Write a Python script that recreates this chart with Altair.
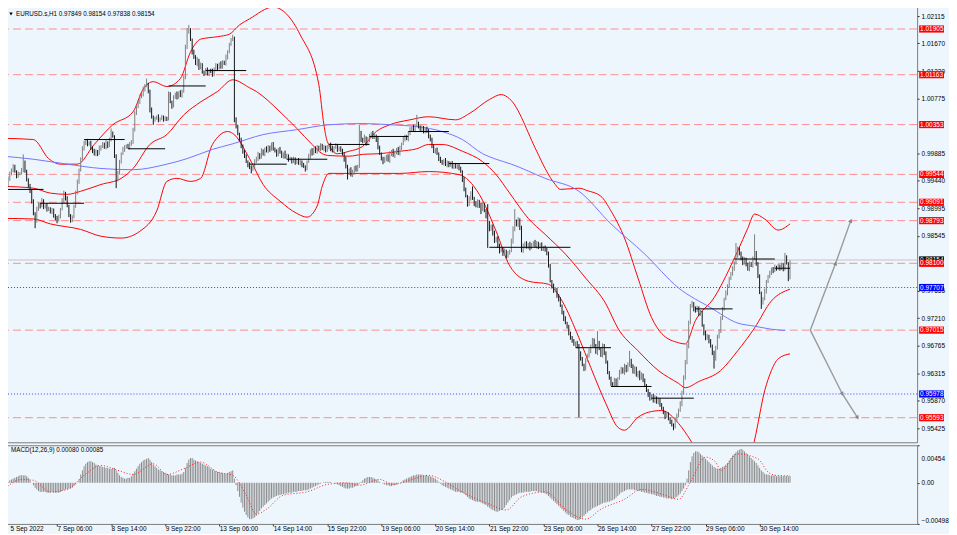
import json

import altair as alt
import pandas as pd

# EURUSD.s H1, 5 Sep - 30 Sep 2022.
# hourly closes in units of 0.0001, one per bar (open = previous close)
closes = [
    9932, 9935, 9938, 9946, 9956, 9962, 9967, 9959, 9951, 9956,
    9956, 9962, 9975, 9959, 9946, 9935, 9927, 9911, 9891, 9878,
    9898, 9906, 9903, 9911, 9901, 9904, 9898, 9899, 9893, 9896,
    9888, 9883, 9880, 9886, 9898, 9911, 9924, 9916, 9903, 9888,
    9880, 9885, 9903, 9924, 9943, 9962, 9979, 9996, 10004, 10008,
    10003, 10006, 9998, 9992, 9987, 9992, 9988, 9996, 9999, 10003,
    9998, 10006, 10001, 10011, 10021, 10016, 9984, 9946, 9956, 9975,
    9988, 9995, 9999, 10001, 9998, 10003, 10008, 10027, 10053, 10064,
    10072, 10080, 10085, 10092, 10098, 10101, 10089, 10059, 10048, 10043,
    10045, 10048, 10043, 10045, 10048, 10043, 10046, 10045, 10085, 10072,
    10066, 10079, 10084, 10080, 10087, 10082, 10089, 10113, 10161, 10186,
    10189, 10173, 10153, 10145, 10134, 10140, 10127, 10132, 10121, 10118,
    10124, 10118, 10123, 10121, 10116, 10126, 10131, 10127, 10134, 10129,
    10137, 10134, 10145, 10153, 10166, 10173, 10176, 10043, 10032, 10020,
    10011, 9999, 9992, 9984, 9975, 9970, 9966, 9962, 9967, 9975,
    9980, 9987, 9982, 9992, 9988, 9996, 9992, 9999, 9995, 10003,
    9996, 9992, 9987, 9995, 9990, 9984, 9988, 9982, 9985, 9979,
    9980, 9975, 9979, 9974, 9977, 9972, 9975, 9970, 9967, 9964,
    9975, 9984, 9992, 9988, 9996, 9992, 9999, 9995, 10001, 9996,
    9999, 9993, 9998, 10003, 9996, 9992, 9998, 10001, 9995, 9998,
    9993, 9988, 9979, 9967, 9956, 9962, 9954, 9959, 9966, 9962,
    9967, 10021, 10011, 10008, 10014, 10004, 10011, 10017, 10021, 10014,
    10017, 10011, 9998, 9988, 9980, 9975, 9979, 9984, 9977, 9987,
    9992, 9985, 9990, 9995, 9988, 9998, 10004, 10011, 10016, 10012,
    10021, 10027, 10030, 10027, 10033, 10037, 10032, 10027, 10030, 10024,
    10029, 10024, 10017, 10011, 9999, 9992, 9995, 9988, 9979, 9975,
    9972, 9977, 9970, 9974, 9969, 9972, 9967, 9970, 9966, 9969,
    9964, 9959, 9946, 9930, 9919, 9906, 9914, 9924, 9916, 9907,
    9903, 9911, 9904, 9898, 9906, 9895, 9887, 9875, 9865, 9870,
    9859, 9846, 9851, 9838, 9830, 9833, 9825, 9830, 9822, 9827,
    9830, 9846, 9865, 9878, 9872, 9881, 9868, 9830, 9838, 9843,
    9836, 9841, 9835, 9840, 9844, 9838, 9843, 9836, 9840, 9833,
    9836, 9831, 9827, 9806, 9781, 9773, 9765, 9768, 9757, 9752,
    9741, 9730, 9720, 9713, 9707, 9697, 9688, 9684, 9678, 9681,
    9675, 9665, 9655, 9645, 9639, 9652, 9660, 9668, 9676, 9684,
    9676, 9665, 9681, 9672, 9660, 9676, 9665, 9649, 9633, 9623,
    9615, 9612, 9620, 9613, 9623, 9633, 9639, 9633, 9642, 9636,
    9645, 9652, 9644, 9633, 9639, 9628, 9633, 9623, 9629, 9620,
    9612, 9603, 9597, 9590, 9595, 9587, 9592, 9584, 9589, 9581,
    9574, 9568, 9561, 9565, 9558, 9553, 9548, 9545, 9555, 9563,
    9571, 9582, 9600, 9623, 9649, 9676, 9713, 9741, 9744, 9736,
    9733, 9738, 9728, 9730, 9709, 9697, 9688, 9692, 9684, 9676,
    9665, 9655, 9672, 9692, 9700, 9720, 9736, 9752, 9762, 9773,
    9785, 9794, 9801, 9810, 9822, 9833, 9827, 9817, 9810, 9817,
    9807, 9801, 9810, 9806, 9817, 9827, 9810, 9789, 9762, 9746,
    9752, 9765, 9781, 9788, 9794, 9801, 9798, 9804, 9801, 9806,
    9801, 9807, 9801, 9820, 9810, 9785, 9815,
]
# wick above / below each candle body, in pips
wick_up = [
    3, 4, 2, 5, 3, 2, 4, 3, 2, 3, 2, 3, 12, 2, 3, 2, 4, 2, 3, 2,
    4, 3, 2, 5, 3, 2, 4, 3, 2, 4, 3, 2, 4, 3, 2, 5, 4, 2, 3, 2,
    2, 3, 2, 4, 3, 2, 3, 4, 5, 3, 4, 2, 3, 2, 4, 3, 2, 5, 3, 4,
    3, 4, 2, 3, 8, 3, 2, 3, 4, 3, 2, 4, 3, 2, 3, 4, 2, 3, 4, 3,
    3, 4, 2, 5, 3, 9, 2, 3, 4, 2, 3, 2, 4, 2, 3, 2, 3, 2, 4, 3,
    2, 4, 3, 5, 2, 4, 3, 2, 4, 6, 8, 3, 2, 4, 3, 5, 2, 4, 3, 2,
    3, 4, 2, 3, 5, 2, 4, 3, 2, 4, 3, 2, 4, 3, 2, 3, 5, 2, 4, 3,
    2, 3, 4, 2, 3, 2, 4, 3, 2, 4, 3, 4, 2, 5, 3, 2, 4, 3, 2, 3,
    4, 2, 3, 2, 4, 3, 2, 5, 3, 2, 3, 2, 4, 3, 2, 4, 3, 2, 3, 2,
    2, 4, 3, 5, 2, 4, 3, 2, 4, 3, 3, 2, 4, 2, 3, 5, 2, 4, 3, 2,
    2, 3, 2, 4, 3, 2, 4, 3, 2, 3, 3, 14, 4, 3, 5, 2, 4, 3, 2, 4,
    3, 2, 4, 3, 2, 3, 4, 2, 3, 5, 2, 4, 3, 2, 4, 3, 2, 4, 3, 2,
    3, 4, 2, 5, 3, 14, 3, 2, 4, 3, 2, 3, 4, 2, 3, 4, 2, 3, 2, 4,
    3, 2, 4, 3, 2, 3, 4, 2, 3, 2, 2, 3, 2, 4, 3, 2, 5, 3, 11, 2,
    4, 3, 2, 4, 3, 2, 3, 19, 4, 3, 3, 4, 2, 3, 4, 2, 3, 4, 2, 3,
    2, 4, 5, 20, 3, 4, 2, 3, 4, 2, 3, 2, 4, 3, 2, 4, 3, 2, 3, 4,
    2, 3, 4, 2, 3, 2, 4, 3, 2, 3, 3, 2, 3, 4, 2, 3, 2, 4, 3, 2,
    3, 4, 2, 3, 2, 4, 3, 4, 2, 5, 4, 3, 19, 3, 2, 4, 3, 2, 3, 2,
    3, 2, 4, 3, 2, 4, 3, 2, 5, 3, 4, 16, 3, 2, 4, 3, 2, 3, 4, 2,
    3, 2, 3, 4, 2, 3, 4, 2, 3, 2, 2, 3, 2, 4, 3, 2, 3, 2, 4, 3,
    3, 4, 3, 5, 4, 3, 4, 3, 5, 3, 4, 3, 2, 4, 3, 2, 4, 3, 2, 3,
    2, 3, 4, 2, 3, 4, 3, 2, 4, 3, 3, 2, 4, 3, 21, 4, 3, 2, 4, 3,
    2, 4, 3, 2, 4, 30, 3, 2, 3, 2, 3, 4, 2, 3, 4, 2, 3, 4, 2, 3,
    2, 4, 3, 7, 3, 2, 0,
]
wick_dn = [
    3, 2, 4, 3, 2, 3, 4, 2, 3, 2, 3, 2, 4, 2, 3, 2, 3, 4, 3, 11,
    2, 3, 4, 2, 3, 2, 4, 3, 2, 3, 4, 3, 5, 2, 3, 2, 3, 4, 2, 3,
    4, 3, 2, 3, 2, 4, 3, 2, 3, 2, 3, 2, 4, 3, 2, 3, 4, 2, 3, 2,
    2, 3, 4, 2, 3, 2, 3, 14, 3, 2, 3, 2, 4, 3, 2, 3, 2, 4, 3, 2,
    2, 3, 2, 4, 3, 2, 3, 4, 3, 8, 3, 2, 4, 3, 2, 3, 2, 4, 3, 2,
    5, 3, 2, 4, 3, 2, 3, 2, 4, 3, 3, 2, 4, 3, 2, 4, 3, 2, 3, 4,
    2, 3, 4, 2, 3, 2, 4, 3, 2, 3, 3, 2, 3, 4, 2, 3, 2, 4, 3, 2,
    3, 2, 4, 3, 2, 4, 3, 6, 2, 3, 2, 4, 3, 2, 3, 4, 2, 3, 4, 2,
    3, 2, 4, 3, 2, 3, 4, 2, 3, 4, 2, 3, 2, 4, 3, 2, 3, 4, 2, 5,
    3, 2, 4, 3, 2, 3, 4, 2, 3, 2, 4, 3, 2, 3, 4, 2, 3, 2, 4, 3,
    2, 3, 4, 3, 10, 2, 3, 4, 2, 3, 3, 2, 4, 3, 2, 3, 2, 4, 3, 2,
    2, 4, 3, 2, 3, 4, 2, 3, 2, 4, 3, 2, 4, 3, 2, 3, 4, 2, 3, 2,
    4, 3, 2, 3, 4, 2, 3, 2, 4, 3, 3, 2, 4, 3, 2, 3, 4, 2, 3, 2,
    2, 3, 2, 4, 3, 2, 3, 4, 2, 3, 3, 2, 4, 3, 2, 4, 3, 2, 3, 4,
    2, 3, 4, 8, 3, 2, 4, 40, 3, 2, 4, 3, 2, 3, 4, 2, 3, 2, 4, 3,
    3, 2, 4, 3, 2, 3, 4, 2, 3, 4, 2, 3, 4, 2, 3, 2, 4, 3, 2, 3,
    3, 2, 4, 3, 2, 4, 3, 2, 3, 4, 2, 3, 4, 2, 3, 4, 2, 3, 2, 4,
    3, 105, 3, 2, 4, 3, 2, 3, 4, 2, 3, 2, 4, 3, 2, 3, 4, 2, 3, 2,
    4, 3, 2, 3, 4, 2, 3, 2, 4, 3, 2, 3, 4, 2, 3, 2, 4, 3, 2, 3,
    3, 2, 4, 3, 2, 3, 4, 2, 3, 4, 2, 3, 4, 2, 3, 4, 3, 6, 3, 2,
    3, 2, 4, 3, 2, 3, 4, 2, 3, 4, 3, 2, 4, 3, 2, 4, 3, 2, 4, 3,
    4, 16, 3, 2, 4, 3, 2, 3, 2, 4, 3, 2, 4, 3, 2, 3, 4, 2, 3, 2,
    2, 3, 4, 2, 3, 2, 4, 3, 2, 10, 3, 2, 4, 3, 2, 3, 4, 2, 3, 2,
    3, 2, 4, 3, 2, 4, 1,
]
# MACD(12,26,9) main histogram, units of 0.0001, one per bar
macd_main = [
    -4, -3, -2, 1, 3, 4, 5, 6, 7, 8, 9, 9, 9, 9, 8, 6, 3, 0, -3,
    -6, -8, -10, -11, -11, -11, -11, -12, -12, -12, -11, -12, -12, -12,
    -12, -11, -10, -9, -8, -8, -7, -7, -6, -4, -2, 0,
    4, 10, 15, 20, 23, 25, 26, 26, 25, 24,
    22, 21, 20, 20, 19, 19, 18, 18, 17, 17, 18, 18,
    15, 12, 9, 7, 6, 5, 5, 6, 6,
    8, 11, 14, 17, 20, 23, 25, 27, 28, 29, 30,
    28, 25, 22, 20, 18, 16, 15, 14, 13, 12,
    11, 10, 10, 9, 9, 9, 10, 10, 10, 11, 13,
    18, 24, 28, 30, 30, 28, 27, 26, 25, 24, 23, 22, 21, 20, 19,
    17, 16, 15, 14, 13, 13, 12, 12, 11, 11, 12, 13, 14, 15,
    5, -3, -10, -17, -24, -30, -35, -39, -42, -44, -44, -43, -42, -40,
    -37, -34, -31, -29, -27, -25, -23,
    -21, -19, -18, -17, -16, -15, -15, -14, -14,
    -13, -13, -12, -12, -12, -11, -11, -11, -10, -10, -10, -9, -9, -9,
    -8, -7, -6, -5, -4, -3, -2, -1, 0, 1, 1, 1, 1, 1, 0, 0, -1,
    -2, -3, -4, -5, -6, -7, -7, -7, -6, -6, -5, -4, -3,
    -1, 1, 3, 5, 6, 7, 7, 7, 6, 5, 4, 3,
    1, 0, -1, -2, -3, -3, -4, -4, -3, -3, -2, -1,
    0, 1, 3, 4, 5, 6, 7, 8, 9, 9, 10, 10, 10, 10, 9, 9, 9, 8, 8, 7, 6, 5,
    3, 1, -1, -3, -4, -5, -6, -7, -8, -9,
    -10, -11, -11, -11, -12, -12, -13, -15, -17, -19,
    -20, -21, -22, -23, -23, -23, -24, -25, -26, -27,
    -29, -30, -32, -33, -34, -35, -35, -34, -33, -32,
    -30, -27, -24, -21, -18, -16, -15, -14, -13, -12,
    -12, -12, -11, -11, -11, -11, -10, -10, -10, -10, -11, -11, -12, -12, -13, -14,
    -16, -18, -20, -22, -24, -26, -28, -30,
    -32, -34, -36, -38, -39, -41, -42, -43, -44, -45, -45,
    -44, -42, -40, -38, -36, -34, -33,
    -31, -30, -29, -28, -27, -26, -25, -24, -24, -23, -23, -22,
    -21, -20, -18, -16, -14, -12, -11, -10, -9, -8,
    -8, -8, -8, -9, -9, -10, -10, -11, -11, -12, -12, -13, -13, -14, -14, -15,
    -16, -16, -17, -17, -18, -18, -19, -19, -19, -20, -19,
    -18, -17, -15, -13, -10, -7, -3,
    5, 15, 25, 32, 36, 38, 38, 37, 35, 33, 31, 29, 27, 25, 23, 21,
    19, 18, 17, 17, 18, 19, 20, 22, 24, 27, 30, 33, 35, 37, 39, 40, 41,
    40, 38, 36, 34, 32, 30, 28, 26, 24, 21, 18, 15, 13, 11, 10, 10, 9, 9,
    9, 9, 8, 8, 8, 8, 8, 8, 8, 8, 8,
]
# MACD signal line (bar index, value in 0.0001)
signal_bar = [0, 11, 18, 28, 38, 48, 58, 68, 77, 89, 97, 107, 117, 127, 136, 144, 150,
              156, 166, 180, 192, 203, 211, 223, 231, 242, 252, 262, 270, 288, 298, 307,
              321, 333, 345, 354, 368, 378, 392, 400, 407, 416, 422, 425, 435, 447, 453,
              458, 466]
signal_val = [-9, 4, 3, -11, -8, 9, 21, 15, 10, 23, 10, 17, 25, 13, 9, -15, -38,
              -32, -15, -11, -2, 0, -3, 4, -2, 4, 9, 1, -9, -26, -33, -17,
              -11, -32, -44, -32, -20, -8, -15, -20, 1, 31, 25, 15, 35, 29, 13,
              9, 8.5]

# Bollinger bands and blue moving average (bar index, price in 0.0001)
bb_up_bar = [0, 18, 27, 34, 44, 54, 65, 77, 83, 89, 97, 105, 111, 117, 127, 134, 140, 146,
             160, 176, 187, 190, 192, 198, 205, 213, 221, 229, 241, 252, 268, 276, 288,
             295, 300, 316, 321, 327, 330, 341, 346, 354, 360, 368, 376, 384, 390, 400,
             404, 410, 421, 435, 441, 445, 451, 459, 466]
bb_up_val = [10013, 10011, 9980, 9971, 9971, 10003, 10035, 10056, 10093, 10105, 10097,
             10110, 10153, 10174, 10178, 10182, 10197, 10207, 10226, 10181, 10100, 10035,
             10008, 9988, 9992, 10000, 10024, 10035, 10043, 10048, 10043, 10053, 10076,
             10084, 10077, 9992, 9964, 9938, 9930, 9932, 9928, 9919, 9895, 9851, 9786,
             9722, 9696, 9681, 9679, 9717, 9754, 9830, 9867, 9890, 9882, 9864, 9874]
bb_mid_bar = [0, 18, 28, 38, 46, 58, 70, 77, 87, 97, 107, 117, 127, 136, 146, 150, 164,
              174, 183, 189, 193, 205, 213, 223, 235, 245, 252, 260, 272, 284, 292, 300,
              311, 321, 333, 345, 357, 364, 376, 388, 400, 404, 412, 425, 435, 445, 455,
              466]
bb_mid_val = [9935, 9932, 9924, 9922, 9927, 9938, 9948, 9964, 10003, 10019, 10051, 10072,
              10089, 10108, 10095, 10089, 10056, 10029, 10003, 9988, 9985, 9984, 9987,
              9988, 9992, 9996, 10003, 10003, 9992, 9975, 9954, 9924, 9883, 9857, 9825,
              9786, 9744, 9705, 9668, 9636, 9615, 9608, 9618, 9636, 9668, 9705, 9749, 9768]
bb_low_bar = [0, 18, 28, 46, 58, 70, 81, 91, 97, 103, 111, 117, 124, 133, 136, 146, 154,
              164, 174, 180, 186, 189, 193, 211, 235, 252, 270, 282, 292, 300, 311, 323,
              331, 341, 348, 357, 364, 368, 376, 382, 390, 400, 407, 417, 432, 441, 445,
              451, 455, 459, 466]
bb_low_val = [9883, 9882, 9874, 9865, 9854, 9851, 9862, 9895, 9943, 9948, 9943, 9948,
              10003, 10024, 10021, 9980, 9938, 9911, 9891, 9885, 9903, 9935, 9956, 9956,
              9956, 9959, 9954, 9922, 9862, 9806, 9781, 9776, 9749, 9689, 9641, 9582,
              9544, 9539, 9560, 9568, 9571, 9550, 9523, 9474, 9461, 9482, 9523, 9603,
              9636, 9655, 9663]
ma_bar = [0, 18, 38, 58, 77, 97, 109, 124, 136, 154, 174, 193, 213, 229, 245, 260, 272,
          284, 292, 301, 321, 341, 360, 380, 400, 419, 435, 445, 455, 463]
ma_val = [9984, 9979, 9971, 9964, 9962, 9971, 9980, 9995, 10004, 10019, 10027, 10035,
          10037, 10035, 10032, 10024, 10011, 9988, 9979, 9971, 9948, 9927, 9874, 9825,
          9770, 9738, 9713, 9708, 9703, 9701]

# short black day segments
pivot_from = [1, 22, 48, 74, 98, 120, 146, 168, 193, 217, 240, 264, 288, 339, 360, 384,
              410, 433, 457]
pivot_to = [24, 48, 72, 96, 120, 144, 168, 192, 217, 240, 264, 288, 336, 360, 384, 409,
            432, 457, 466]
pivot_price = [0.99300, 0.99075, 1.00110, 0.99960, 1.00980, 1.01230, 0.99710, 0.99790,
               1.00030, 1.00160, 1.00240, 0.99720, 0.98360, 0.96730, 0.96100, 0.95910,
               0.97360, 0.98170, 0.98020]

red_levels = [1.01905, 1.01163, 1.00353, 0.99544, 0.99091, 0.98793, 0.98100, 0.97015,
              0.95593]
blue_levels = [0.97707, 0.95978]
last_price = 0.98154

arrow_up_bar = [478, 493, 502]
arrow_up_price = [0.97015, 0.98100, 0.98793]
arrow_dn_bar = [478, 497, 506]
arrow_dn_price = [0.97015, 0.95978, 0.95593]

# scale labels (1.00330 and 0.98100 sit fully under the level tags)
price_ticks = [1.02115, 1.01670, 1.01220, 1.00775, 0.99885, 0.99440, 0.98995,
               0.98545, 0.97655, 0.97210, 0.96765, 0.96315, 0.95870, 0.95425]
macd_ticks = [0.00454, 0.0, -0.00498]
time_ticks = [0, 32, 64, 96, 128, 160, 192, 224, 256, 288, 320, 352, 384, 416, 448]
time_labels = ["5 Sep 2022", "7 Sep 06:00", "8 Sep 14:00", "9 Sep 22:00",
               "13 Sep 06:00", "14 Sep 14:00", "15 Sep 22:00", "19 Sep 06:00",
               "20 Sep 14:00", "21 Sep 22:00", "23 Sep 06:00", "26 Sep 14:00",
               "27 Sep 22:00", "29 Sep 06:00", "30 Sep 14:00"]
title_text = "EURUSD.s,H1  0.97849 0.98154 0.97838 0.98154"
macd_text = "MACD(12,26,9) 0.00080 0.00085"

W = 920          # keeps the page inside the 957 px window
H_PRICE = 442
H_MACD = 79
BG = "#eef6fd"
FONT = "Liberation Sans"
PX_PER_BAR = 1.696
X_DOM = [-1.18, -1.18 + W / PX_PER_BAR]
Y_DOM = [0.95194, 1.02341]
M_DOM = [-0.00498, 0.00454]

# candles
n = min(len(closes), len(wick_up), len(wick_dn))
rows = []
for i in range(n):
    c = closes[i] / 1e4
    o = closes[i - 1] / 1e4 if i else c
    rows.append({
        "bar": i,
        "low": min(o, c) - wick_dn[i] / 1e4,
        "high": max(o, c) + wick_up[i] / 1e4,
        "dir": "up" if c >= o else "down",
    })
candles = pd.DataFrame(rows)


def curve(name, bars, vals):
    m = min(len(bars), len(vals))
    return pd.DataFrame({"bar": bars[:m], "price": [v / 1e4 for v in vals[:m]], "line": name})


bands = pd.concat([
    curve("upper", bb_up_bar, bb_up_val),
    curve("middle", bb_mid_bar, bb_mid_val),
    curve("lower", bb_low_bar, bb_low_val),
])
ma = curve("ma", ma_bar, ma_val)
pivots = pd.DataFrame({"start": pivot_from, "end": pivot_to, "price": pivot_price})
arrows = pd.concat([
    pd.DataFrame({"bar": arrow_up_bar, "price": arrow_up_price, "path": "up", "step": [0, 1, 2]}),
    pd.DataFrame({"bar": arrow_dn_bar, "price": arrow_dn_price, "path": "down", "step": [0, 1, 2]}),
])

# price tags on the right-hand scale
px_per_price = H_PRICE / (Y_DOM[1] - Y_DOM[0])
half = 3.6 / px_per_price


def tags(prices):
    df = pd.DataFrame({"price": prices})
    df["lo"] = df["price"] - half
    df["hi"] = df["price"] + half
    df["label"] = df["price"].map(lambda p: f"{p:.5f}")
    return df


xs = alt.Scale(domain=X_DOM, nice=False, zero=False)
ys = alt.Scale(domain=Y_DOM, nice=False, zero=False)
ms = alt.Scale(domain=M_DOM, nice=False, zero=False)

price_axis = alt.Axis(orient="right", values=price_ticks, format=".5f", title=None,
                      grid=False, domain=False, tickSize=2, labelPadding=2,
                      labelFontSize=6.5)
xp = alt.X("bar:Q", scale=xs, axis=None)


def py(field):
    return alt.Y(field, scale=ys, axis=price_axis)


levels = alt.Chart(pd.DataFrame({"price": red_levels})).mark_rule(
    color="#ff8c8c", strokeDash=[8, 4], strokeWidth=1).encode(y=py("price:Q"))
alerts = alt.Chart(pd.DataFrame({"price": blue_levels})).mark_rule(
    color="#3c3cff", strokeDash=[1, 2], strokeWidth=1).encode(y=py("price:Q"))
bid_line = alt.Chart(pd.DataFrame({"price": [last_price]})).mark_rule(
    color="#c4c4c4", strokeWidth=1).encode(y=py("price:Q"))

band_lines = alt.Chart(bands).mark_line(
    color="#ff0000", strokeWidth=1, interpolate="monotone", clip=True
).encode(x=xp, y=py("price:Q"), detail="line:N")
ma_line = alt.Chart(ma).mark_line(
    color="#7474ff", strokeWidth=1, interpolate="monotone", clip=True
).encode(x=xp, y=py("price:Q"))

bars_up = alt.Chart(candles[candles["dir"] == "up"]).mark_rule(
    color="#7e7e7e", strokeWidth=1, clip=True).encode(x=xp, y=py("low:Q"), y2="high:Q")
bars_dn = alt.Chart(candles[candles["dir"] == "down"]).mark_rule(
    color="#151515", strokeWidth=1, clip=True).encode(x=xp, y=py("low:Q"), y2="high:Q")

piv = alt.Chart(pivots).mark_rule(color="black", strokeWidth=1).encode(
    x=alt.X("start:Q", scale=xs, axis=None), x2="end:Q", y=py("price:Q"))

arrow_lines = alt.Chart(arrows).mark_line(color="#9a9a9a", strokeWidth=1.4).encode(
    x=xp, y=py("price:Q"), detail="path:N", order="step:Q")
heads_up = alt.Chart(arrows[(arrows["path"] == "up") & (arrows["step"] > 0)]).mark_point(
    shape="triangle-up", filled=True, size=20, color="#858585", opacity=1, angle=20
).encode(x=xp, y=py("price:Q"))
heads_dn = alt.Chart(arrows[(arrows["path"] == "down") & (arrows["step"] > 0)]).mark_point(
    shape="triangle-up", filled=True, size=20, color="#858585", opacity=1, angle=152
).encode(x=xp, y=py("price:Q"))


def tag_layer(prices, fill):
    df = tags(prices)
    box = alt.Chart(df).mark_rect(color=fill, clip=False).encode(
        x=alt.value(W + 2), x2=alt.value(W + 27), y=py("lo:Q"), y2="hi:Q")
    txt = alt.Chart(df).mark_text(
        align="left", baseline="middle", color="white", fontSize=6.5, font=FONT, clip=False
    ).encode(x=alt.value(W + 3), y=py("price:Q"), text="label:N")
    return [box, txt]


head = pd.DataFrame({"t": [title_text]})
title_mark = alt.Chart(head).mark_text(
    align="left", baseline="middle", fontSize=6.3, font=FONT, color="black"
).encode(x=alt.value(15), y=alt.value(12), text="t:N")
title_tri = alt.Chart(head).mark_point(
    shape="triangle-down", filled=True, size=12, color="black", opacity=1
).encode(x=alt.value(10), y=alt.value(12))

price = alt.layer(
    levels, alerts, bid_line, band_lines, ma_line, bars_up, bars_dn, piv,
    arrow_lines, heads_up, heads_dn,
    *tag_layer([last_price], "#000000"),
    *tag_layer(blue_levels, "#0000ff"),
    *tag_layer(red_levels, "#ff0000"),
    title_mark, title_tri,
).properties(width=W, height=H_PRICE)

# MACD window
m = len(macd_main)
macd_df = pd.DataFrame({"bar": list(range(m)), "v": [v / 1e4 for v in macd_main], "zero": 0.0})
sig = min(len(signal_bar), len(signal_val))
signal_df = pd.DataFrame({"bar": signal_bar[:sig], "v": [v / 1e4 for v in signal_val[:sig]]})

time_axis = alt.Axis(
    values=time_ticks,
    labelExpr=f"{json.dumps(time_labels)}[round(datum.value / 32)]",
    labelAlign="left", labelFontSize=6.5, tickSize=2, labelPadding=0,
    domain=False, grid=False, title=None, labelOverlap=False, labelFlush=False,
    labelOffset={"condition": {"test": "datum.value == 0", "value": 7}, "value": 0},
)
macd_axis = alt.Axis(
    orient="right", values=macd_ticks, title=None, grid=False, domain=False,
    tickSize=2, labelPadding=2, labelFontSize=6.5,
    labelExpr="datum.value == 0 ? '0.00' : format(datum.value, '.5f')",
    labelOffset={"condition": [{"test": "datum.value > 0.001", "value": 13},
                               {"test": "datum.value < -0.001", "value": -3}],
                 "value": 0},
)
xm = alt.X("bar:Q", scale=xs, axis=time_axis)

hist = alt.Chart(macd_df).mark_rule(color="#8a8a8a", strokeWidth=1).encode(
    x=xm, y=alt.Y("v:Q", scale=ms, axis=macd_axis), y2="zero:Q")
signal = alt.Chart(signal_df).mark_line(
    color="#ff2020", strokeDash=[1, 2], strokeWidth=1, interpolate="monotone"
).encode(x=xm, y=alt.Y("v:Q", scale=ms, axis=macd_axis))
macd_title = alt.Chart(pd.DataFrame({"t": [macd_text]})).mark_text(
    align="left", baseline="middle", fontSize=6.3, font=FONT, color="black"
).encode(x=alt.value(10), y=alt.value(5), text="t:N")

macd = alt.layer(hist, signal, macd_title).properties(width=W, height=H_MACD)

chart = alt.vconcat(price, macd, spacing=1).properties(
    padding={"left": -8, "top": -8, "right": 0, "bottom": 0},
    background=BG,
).configure_view(
    fill=BG, stroke="#7c7c7c", strokeWidth=1
).configure_axis(
    labelFont=FONT, labelColor="#000000", tickColor="#303030"
)

chart.save("out.html", embed_options={"renderer": "svg", "actions": False})
